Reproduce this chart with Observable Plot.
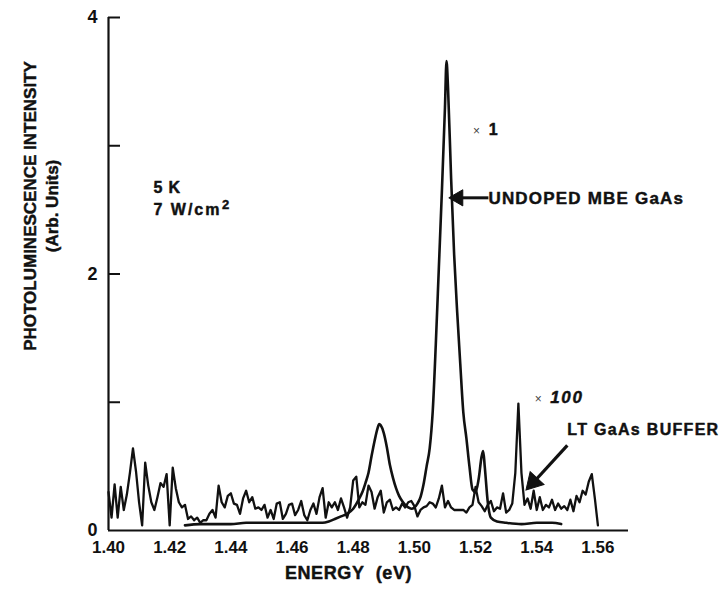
<!DOCTYPE html>
<html>
<head>
<meta charset="utf-8">
<script src="https://cdn.jsdelivr.net/npm/d3@7"></script>
<script src="https://cdn.jsdelivr.net/npm/@observablehq/plot@0.6"></script>
<style>
  html, body { margin: 0; padding: 0; background: #fff; }
  #chart { width: 726px; height: 593px; }
</style>
</head>
<body>
<div id="chart"></div>
<script>
// ---- Data ----
// LT GaAs buffer (x100), sampled every 1 meV from 1.400 eV
const bufferStartEV = 1.400;
const bufferStepEV = 0.001;
const bufferIntensity = [
  0.30, 0.10, 0.36, 0.10, 0.34, 0.16, 0.28, 0.45, 0.64, 0.46,
  0.22, 0.04, 0.53, 0.35, 0.22, 0.16, 0.26, 0.37, 0.34, 0.44,
  0.04, 0.49, 0.33, 0.22, 0.18, 0.20, 0.09, 0.11, 0.08, 0.10,
  0.06, 0.08, 0.08, 0.13, 0.16, 0.10, 0.35, 0.22, 0.18, 0.27,
  0.29, 0.21, 0.20, 0.13, 0.25, 0.31, 0.22, 0.26, 0.17, 0.18,
  0.16, 0.20, 0.10, 0.16, 0.09, 0.21, 0.22, 0.09, 0.13, 0.20,
  0.21, 0.12, 0.16, 0.23, 0.12, 0.08, 0.16, 0.21, 0.13, 0.26,
  0.33, 0.10, 0.22, 0.18, 0.22, 0.16, 0.25, 0.18, 0.10, 0.18,
  0.39, 0.42, 0.18, 0.22, 0.20, 0.35, 0.30, 0.17, 0.26, 0.31,
  0.14, 0.22, 0.24, 0.16, 0.18, 0.16, 0.21, 0.18, 0.22, 0.23,
  0.19, 0.11, 0.16, 0.18, 0.19, 0.22, 0.21, 0.18, 0.25, 0.35,
  0.18, 0.23, 0.18, 0.16, 0.16, 0.16, 0.16, 0.14, 0.18, 0.20,
  0.34, 0.22, 0.19, 0.15, 0.20, 0.23, 0.15, 0.18, 0.17, 0.29,
  0.14, 0.16, 0.21, 0.45, 0.99, 0.45, 0.20, 0.25, 0.17, 0.31,
  0.16, 0.26, 0.16, 0.20, 0.18, 0.24, 0.16, 0.21, 0.17, 0.19,
  0.16, 0.24, 0.15, 0.27, 0.22, 0.31, 0.28, 0.38, 0.44, 0.25,
  0.04
];

// Undoped MBE GaAs (x1)
const mbeEnergy = [
  1.425, 1.430, 1.435, 1.440, 1.445, 1.450, 1.455, 1.460, 1.465, 1.470,
  1.472, 1.474, 1.476, 1.478, 1.480, 1.482, 1.483, 1.484, 1.485, 1.486,
  1.487, 1.488, 1.4885, 1.489, 1.490, 1.491, 1.492, 1.493, 1.494, 1.495,
  1.496, 1.497, 1.498, 1.499, 1.500, 1.501, 1.502, 1.503, 1.504, 1.505,
  1.506, 1.507, 1.508, 1.509, 1.510, 1.5105, 1.511, 1.512, 1.513, 1.514,
  1.515, 1.516, 1.517, 1.518, 1.519, 1.520, 1.521, 1.522, 1.5225, 1.523,
  1.524, 1.525, 1.527, 1.530, 1.535, 1.540, 1.545, 1.548
];
const mbeIntensity = [
  0.04, 0.05, 0.05, 0.05, 0.06, 0.06, 0.06, 0.06, 0.06, 0.06,
  0.07, 0.09, 0.11, 0.13, 0.17, 0.25, 0.30, 0.37, 0.45, 0.58,
  0.70, 0.80, 0.83, 0.82, 0.76, 0.65, 0.51, 0.41, 0.33, 0.27,
  0.23, 0.20, 0.18, 0.17, 0.18, 0.21, 0.26, 0.36, 0.50, 0.64,
  0.93, 1.45, 2.05, 2.65, 3.30, 3.66, 3.45, 2.75, 2.15, 1.70,
  1.30, 0.92, 0.72, 0.50, 0.32, 0.30, 0.40, 0.58, 0.62, 0.50,
  0.22, 0.10, 0.07, 0.06, 0.05, 0.06, 0.06, 0.05
];

// Axis ticks
const xTickLabels = [1.40, 1.42, 1.44, 1.46, 1.48, 1.50, 1.52, 1.54, 1.56];
const yTickLabels = [0, 2, 4];
const yTickMarks = [1, 2, 3, 4];

// ---- Build tables ----
const buffer = bufferIntensity.map((v, i) => ({E: bufferStartEV + i * bufferStepEV, I: v}));
const mbe = mbeEnergy.map((e, i) => ({E: e, I: mbeIntensity[i]}));

const font = "'Liberation Sans', Arial, Helvetica, sans-serif";
const ink = "#111";
const heavy = {fontWeight: "bold", fill: ink, stroke: ink, strokeWidth: 0.45};

const chart = Plot.plot({
  width: 726,
  height: 593,
  marginLeft: 108,
  marginRight: 98,
  marginTop: 17,
  marginBottom: 63,
  x: {domain: [1.40, 1.57]},
  y: {domain: [0, 4]},
  style: {fontFamily: font, background: "#fff", color: ink},
  marks: [
    // axes
    Plot.axisX(xTickLabels, {tickSize: 0, tickPadding: 10, tickFormat: d => d.toFixed(2),
      fontSize: 17, fontWeight: "bold", label: null}),
    Plot.axisY(yTickLabels, {tickSize: 0, tickPadding: 11, tickFormat: d => String(d),
      fontSize: 18, fontWeight: "bold", label: null}),
    Plot.axisY(yTickMarks, {tickSize: -12, text: null, label: null, strokeWidth: 2}),
    Plot.ruleX([1.40], {y1: 0, y2: 4, stroke: ink, strokeWidth: 2.2}),
    Plot.ruleY([0], {stroke: ink, strokeWidth: 2.2}),

    // curves
    Plot.line(buffer, {x: "E", y: "I", stroke: ink, strokeWidth: 2.3, strokeLinejoin: "round"}),
    Plot.line(mbe, {x: "E", y: "I", stroke: ink, strokeWidth: 2.6, curve: "monotone-x"}),

    // axis titles
    Plot.text(["PHOTOLUMINESCENCE INTENSITY"], {frameAnchor: "left", textAnchor: "middle", rotate: -90,
      dx: -78, dy: -68, fontSize: 17, ...heavy}),
    Plot.text(["(Arb. Units)"], {frameAnchor: "left", textAnchor: "middle", rotate: -90,
      dx: -56, dy: -68, fontSize: 17, ...heavy}),
    Plot.text(["ENERGY\u00a0\u00a0(eV)"], {frameAnchor: "bottom", dx: -20, dy: 48,
      fontSize: 18, ...heavy}),

    // annotations
    Plot.text(["5 K"], {x: 1.4147, y: 2.633, textAnchor: "start", lineAnchor: "bottom",
      fontSize: 16, ...heavy}),
    Plot.text(["7 W/cm"], {x: 1.4147, y: 2.461, textAnchor: "start", lineAnchor: "bottom",
      fontSize: 16, ...heavy}),
    Plot.text(["2"], {x: 1.4371, y: 2.575, textAnchor: "start", lineAnchor: "top",
      fontSize: 13, ...heavy}),
    Plot.text(["×"], {x: 1.5203, y: 3.086, lineAnchor: "bottom", fontSize: 12, fill: "#444"}),
    Plot.text(["1"], {x: 1.5258, y: 3.086, lineAnchor: "bottom", fontSize: 16, ...heavy}),
    Plot.text(["UNDOPED MBE GaAs"], {x: 1.5242, y: 2.547, textAnchor: "start", lineAnchor: "bottom",
      fontSize: 17, ...heavy}),
    Plot.link([{x1: 1.5242, y1: 2.594, x2: 1.5150, y2: 2.594}],
      {x1: "x1", y1: "y1", x2: "x2", y2: "y2", stroke: ink, strokeWidth: 3}),
    Plot.dot([{x: 1.5143, y: 2.594}], {x: "x", y: "y", symbol: "triangle", rotate: -90, r: 6,
      fill: ink, stroke: ink, strokeWidth: 1}),
    Plot.text(["×"], {x: 1.5405, y: 0.992, lineAnchor: "bottom", fontSize: 12, fill: "#444"}),
    Plot.text(["100"], {x: 1.5444, y: 0.992, textAnchor: "start", lineAnchor: "bottom",
      fontSize: 17, fontStyle: "italic", ...heavy}),
    Plot.text(["LT GaAs BUFFER"], {x: 1.5500, y: 0.742, textAnchor: "start", lineAnchor: "bottom",
      fontSize: 16, ...heavy}),
    Plot.link([{x1: 1.5500, y1: 0.664, x2: 1.5395, y2: 0.39}],
      {x1: "x1", y1: "y1", x2: "x2", y2: "y2", stroke: ink, strokeWidth: 3.2}),
    Plot.dot([{x: 1.5389, y: 0.378}], {x: "x", y: "y", symbol: "triangle", rotate: 222.8, r: 7,
      fill: ink, stroke: ink, strokeWidth: 1})
  ]
});

// Wider letter spacing, as in the typeset original
const letterSpacing = new Map([
  ["ENERGY\u00a0\u00a0(eV)", 0.6],
  ["5 K", 0.8],
  ["7 W/cm", 2.0],
  ["UNDOPED MBE GaAs", 1.2],
  ["100", 1.7],
  ["LT GaAs BUFFER", 1.3]
]);
d3.select(chart).selectAll("text").each(function() {
  const t = this.textContent;
  if (letterSpacing.has(t)) this.setAttribute("letter-spacing", letterSpacing.get(t));
});

document.getElementById("chart").appendChild(chart);
</script>
</body>
</html>
